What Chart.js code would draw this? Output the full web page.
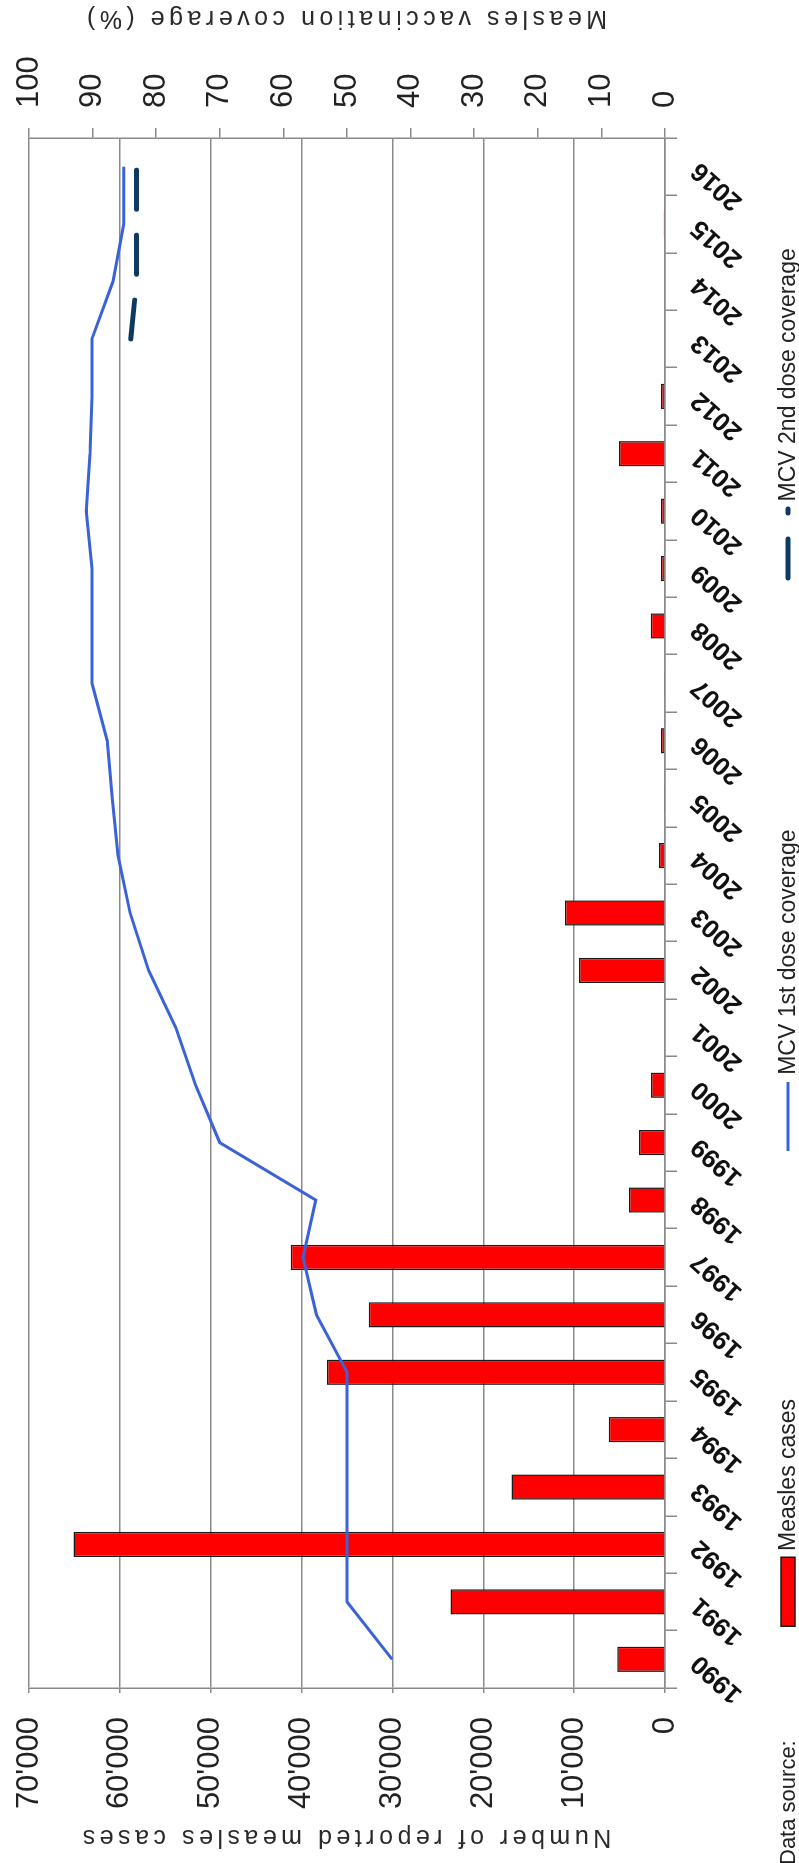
<!DOCTYPE html>
<html>
<head>
<meta charset="utf-8">
<script src="https://cdn.jsdelivr.net/npm/chart.js@4.4.1/dist/chart.umd.min.js"></script>
<style>
  html, body { margin: 0; padding: 0; background: #fff; overflow: hidden; width: 799px; height: 1863px; }
  /* the chart is laid out landscape and turned a quarter turn counter-clockwise */
  #frame {
    position: absolute; left: 0; top: 0; width: 1863px; height: 799px;
    transform-origin: 0 0; transform: translate(0, 1863px) rotate(-90deg);
    background: #fff; font-family: 'Liberation Sans', Arial, sans-serif; overflow: hidden;
  }
  #chart { position: absolute; left: 0; top: 0; }
  #legend {
    position: absolute; left: 236px; top: 774px; display: flex; align-items: center;
    gap: 248px; font-size: 23px; color: #222; white-space: nowrap;
  }
  .item { display: flex; align-items: center; }
  .item svg { margin-right: 4px; }
  #source { position: absolute; left: -2px; top: 775px; font-size: 22px; color: #222; white-space: nowrap; }
</style>
</head>
<body>
<div id="frame">
  <canvas id="chart" width="1863" height="799"></canvas>
  <div id="legend"></div>
  <div id="source">Data source:</div>
</div>
<script>
// Years on the category axis
const years = ['1990','1991','1992','1993','1994','1995','1996','1997','1998','1999',
               '2000','2001','2002','2003','2004','2005','2006','2007','2008','2009',
               '2010','2011','2012','2013','2014','2015','2016'];

// Reported measles cases per year
const measlesCases = [5250, 23600, 65100, 16900, 6200, 37200, 32600, 41200, 3960, 2860,
                      1540, null, 9470, 11000, 660, 100, 440, 100, 1580, 440,
                      440, 5060, 440, null, null, 150, null];

// MCV first dose coverage (%)
const mcv1Coverage = [42.9, 50, 50, 50, 50, 50, 54.8, 56.9, 54.9, 70,
                      73.8, 76.9, 81.2, 84.1, 86.0, 86.9, 87.7, 90.1, 90.1, 90.1,
                      91.0, 90.4, 90.1, 90.1, 86.8, 85.1, 85.1];

// MCV second dose coverage (%), reported from 2013 on
const mcv2Coverage = [null, null, null, null, null, null, null, null, null, null,
                      null, null, null, null, null, null, null, null, null, null,
                      null, null, null, 84.0, 83.1, 83.1, 83.1];

// Axis ranges and titles
const casesAxis = { max: 70000, step: 10000, title: 'Number of reported measles cases' };
const coverageAxis = { max: 100, step: 10, title: 'Measles vaccination coverage (%)' };

const FONT = "'Liberation Sans', Arial, sans-serif";
const GRID = '#8a8a8a';

function thousands(v) {
  return String(v).replace(/\B(?=(\d{3})+(?!\d))/g, "'");
}

// Both axis titles read bottom-to-top, with letter spacing
const axisTitles = {
  id: 'axisTitles',
  afterDraw(chart, args, opts) {
    const { ctx, chartArea } = chart;
    const cy = (chartArea.top + chartArea.bottom) / 2;
    ctx.save();
    ctx.font = opts.font;
    ctx.fillStyle = opts.color;
    if ('letterSpacing' in ctx) ctx.letterSpacing = opts.spacing + 'px';
    ctx.textAlign = 'center';
    ctx.textBaseline = 'middle';
    const items = [
      { text: casesAxis.title, x: chart.scales.cases.left + opts.leftOffset },
      { text: coverageAxis.title, x: chart.scales.coverage.right + opts.rightOffset }
    ];
    for (const t of items) {
      ctx.save();
      ctx.translate(t.x, cy);
      ctx.rotate(-Math.PI / 2);
      ctx.fillText(t.text, opts.spacing / 2, 0);
      ctx.restore();
    }
    ctx.restore();
  }
};

// Legend built from the datasets as HTML
function swatch(ds) {
  if (ds.type === 'bar') {
    return `<svg width="72" height="16"><rect x="0.75" y="1" width="69" height="14" fill="${ds.backgroundColor}" stroke="${ds.borderColor}" stroke-width="1.5"/></svg>`;
  }
  if (ds.borderDash && ds.borderDash.length) {
    return `<svg width="76" height="16"><line x1="3" y1="8" x2="72" y2="8" stroke="${ds.borderColor}" stroke-width="${ds.borderWidth}" stroke-linecap="round" stroke-dasharray="${ds.borderDash.join(' ')}"/></svg>`;
  }
  return `<svg width="72" height="16"><line x1="0" y1="8" x2="69" y2="8" stroke="${ds.borderColor}" stroke-width="${ds.borderWidth}"/></svg>`;
}
const htmlLegend = {
  id: 'htmlLegend',
  afterUpdate(chart) {
    const box = document.getElementById('legend');
    box.innerHTML = chart.data.datasets
      .map(ds => `<div class="item">${swatch(ds)}<span>${ds.label}</span></div>`)
      .join('');
  }
};

// keep the value axes flush with the layout padding
function noEndPadding(s) { s.paddingTop = 0; s.paddingBottom = 0; }

Chart.defaults.font.family = FONT;

new Chart(document.getElementById('chart'), {
  type: 'bar',
  data: {
    labels: years,
    datasets: [
      {
        type: 'bar', label: 'Measles cases', data: measlesCases, yAxisID: 'cases',
        backgroundColor: '#ff0000', borderColor: '#1a1a1a', borderWidth: 1.5,
        barPercentage: 0.44, categoryPercentage: 1, order: 3
      },
      {
        type: 'line', label: 'MCV 1st dose coverage', data: mcv1Coverage, yAxisID: 'coverage',
        borderColor: '#3b63d8', borderWidth: 3, pointRadius: 0, tension: 0, order: 2
      },
      {
        type: 'line', label: 'MCV 2nd dose coverage', data: mcv2Coverage, yAxisID: 'coverage',
        borderColor: '#0e3a62', borderWidth: 5, borderDash: [39, 26], borderCapStyle: 'round',
        pointRadius: 0, tension: 0, order: 1
      }
    ]
  },
  options: {
    responsive: false,
    animation: false,
    devicePixelRatio: 1,
    layout: { padding: { left: 50, right: 50, top: 29, bottom: 0 } },
    plugins: {
      legend: { display: false },
      tooltip: { enabled: false },
      axisTitles: { font: `25px ${FONT}`, color: '#2a2a2a', spacing: 4.5, leftOffset: -24, rightOffset: 32 }
    },
    scales: {
      x: {
        type: 'category',
        offset: true,
        grid: { offset: true, drawOnChartArea: false, drawTicks: true, tickLength: 12, color: GRID, lineWidth: 1.5 },
        border: { color: GRID, width: 1.5 },
        ticks: {
          autoSkip: false, maxRotation: 48, minRotation: 48, padding: 8,
          font: { family: FONT, size: 26, weight: 'bold' }, color: '#111'
        },
        afterFit(s) { s.height = 134; }
      },
      cases: {
        position: 'left', min: 0, max: casesAxis.max,
        ticks: { stepSize: casesAxis.step, padding: 24, font: { family: FONT, size: 31 }, color: '#222', callback: v => thousands(v) },
        grid: { color: GRID, lineWidth: 1.5, tickLength: 5 },
        border: { color: GRID, width: 1.5 },
        afterFit(s) { s.width = 125; noEndPadding(s); }
      },
      coverage: {
        position: 'right', min: 0, max: coverageAxis.max,
        ticks: { stepSize: coverageAxis.step, padding: 20, font: { family: FONT, size: 31 }, color: '#222' },
        grid: { drawOnChartArea: false, color: GRID, lineWidth: 1.5, tickLength: 10 },
        border: { color: GRID, width: 1.5 },
        afterFit(s) { s.width = 88; noEndPadding(s); }
      }
    }
  },
  plugins: [axisTitles, htmlLegend]
});
</script>
</body>
</html>
